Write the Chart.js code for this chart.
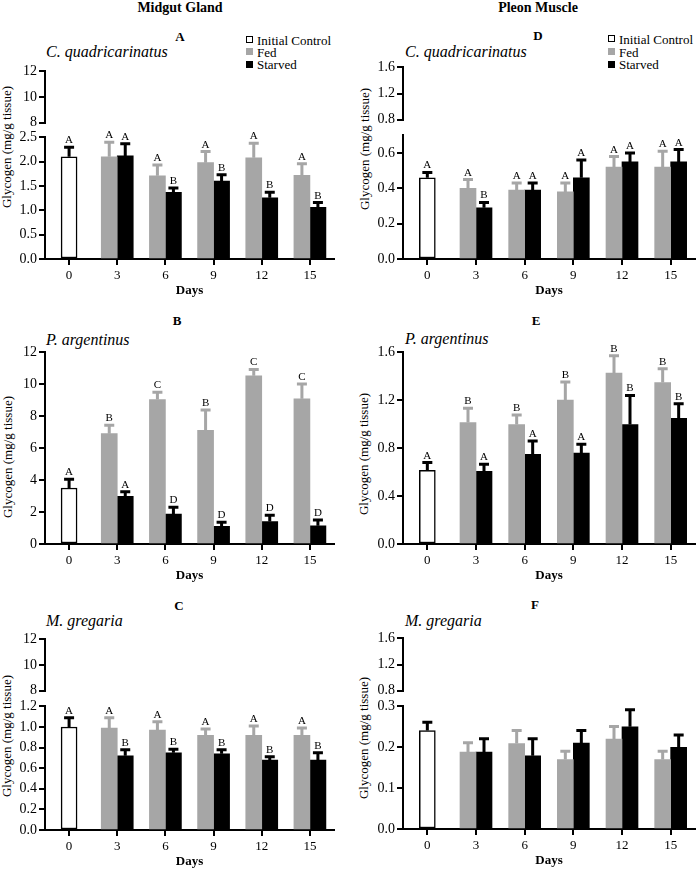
<!DOCTYPE html>
<html>
<head>
<meta charset="utf-8">
<script src="https://cdn.jsdelivr.net/npm/chart.js@4.4.1/dist/chart.umd.min.js"></script>
<style>
	body { margin: 0; background: #fff; }
	#fig { position: relative; width: 696px; height: 869px; overflow: hidden;
		font-family: 'Liberation Serif', serif; color: #000; }
	#fig canvas { position: absolute; }
	.txt { position: absolute; white-space: nowrap; line-height: 1; }
	.coltitle { font-weight: bold; font-size: 14px; transform: translate(-50%, -50%); }
	.letter { font-weight: bold; font-size: 13px; transform: translate(-50%, -50%); }
	.species { font-style: italic; font-size: 16px; transform: translateY(-50%); }
	.ytitle { font-size: 13px; transform: translate(-50%, -50%) rotate(-90deg); }
	.lgtext { font-size: 13px; transform: translateY(-50%); }
	.lgbox { position: absolute; width: 7px; height: 7px; box-sizing: border-box; }
</style>
</head>
<body>
<div id="fig"></div>
<script>
const days = ['0', '3', '6', '9', '12', '15'];

// A - midgut gland, C. quadricarinatus
const mgCqControl = [2.10];
const mgCqControlErr = [0.20];
const mgCqFed = [2.10, 1.71, 1.98, 2.08, 1.72];
const mgCqFedErr = [0.30, 0.22, 0.23, 0.30, 0.24];
const mgCqStarved = [2.12, 1.37, 1.60, 1.26, 1.06];
const mgCqStarvedErr = [0.25, 0.09, 0.13, 0.11, 0.10];
const mgCqControlLetters = ['A'];
const mgCqFedLetters = ['A', 'A', 'A', 'A', 'A'];
const mgCqStarvedLetters = ['A', 'B', 'B', 'B', 'B'];

// B - midgut gland, P. argentinus
const mgPaControl = [3.51];
const mgPaControlErr = [0.54];
const mgPaFed = [6.91, 9.05, 7.12, 10.54, 9.09];
const mgPaFedErr = [0.52, 0.45, 1.28, 0.39, 0.93];
const mgPaStarved = [2.99, 1.87, 1.10, 1.41, 1.14];
const mgPaStarvedErr = [0.29, 0.43, 0.27, 0.39, 0.37];
const mgPaControlLetters = ['A'];
const mgPaFedLetters = ['B', 'C', 'B', 'C', 'C'];
const mgPaStarvedLetters = ['A', 'D', 'D', 'D', 'D'];

// C - midgut gland, M. gregaria
const mgMgControl = [1.00];
const mgMgControlErr = [0.09];
const mgMgFed = [0.99, 0.97, 0.92, 0.92, 0.92];
const mgMgFedErr = [0.10, 0.08, 0.06, 0.09, 0.07];
const mgMgStarved = [0.72, 0.75, 0.74, 0.68, 0.68];
const mgMgStarvedErr = [0.06, 0.035, 0.04, 0.03, 0.07];
const mgMgControlLetters = ['A'];
const mgMgFedLetters = ['A', 'A', 'A', 'A', 'A'];
const mgMgStarvedLetters = ['B', 'B', 'B', 'B', 'B'];

// D - pleon muscle, C. quadricarinatus
const pmCqControl = [0.46];
const pmCqControlErr = [0.03];
const pmCqFed = [0.40, 0.39, 0.38, 0.52, 0.52];
const pmCqFedErr = [0.05, 0.04, 0.05, 0.06, 0.09];
const pmCqStarved = [0.29, 0.39, 0.46, 0.55, 0.55];
const pmCqStarvedErr = [0.03, 0.04, 0.10, 0.05, 0.07];
const pmCqControlLetters = ['A'];
const pmCqFedLetters = ['A', 'A', 'A', 'A', 'A'];
const pmCqStarvedLetters = ['B', 'A', 'A', 'A', 'A'];

// E - pleon muscle, P. argentinus
const pmPaControl = [0.615];
const pmPaControlErr = [0.065];
const pmPaFed = [1.014, 0.997, 1.202, 1.427, 1.349];
const pmPaFedErr = [0.12, 0.08, 0.15, 0.146, 0.114];
const pmPaStarved = [0.607, 0.748, 0.759, 0.997, 1.05];
const pmPaStarvedErr = [0.058, 0.113, 0.075, 0.244, 0.122];
const pmPaControlLetters = ['A'];
const pmPaFedLetters = ['B', 'B', 'B', 'B', 'B'];
const pmPaStarvedLetters = ['A', 'A', 'A', 'B', 'B'];

// F - pleon muscle, M. gregaria (no letters)
const pmMgControl = [0.241];
const pmMgControlErr = [0.02];
const pmMgFed = [0.188, 0.209, 0.17, 0.22, 0.17];
const pmMgFedErr = [0.023, 0.032, 0.02, 0.031, 0.02];
const pmMgStarved = [0.188, 0.179, 0.21, 0.25, 0.2];
const pmMgStarvedErr = [0.033, 0.042, 0.031, 0.042, 0.03];

const serif = "'Liberation Serif', serif";
const gray = '#a6a6a6';
const fig = document.getElementById('fig');

Chart.defaults.font.family = serif;
Chart.defaults.color = '#000';

const columns = [
	{ left: 0, yWidth: 45, padRight: 14 },
	{ left: 348, yWidth: 55, padRight: 1 },
];

function atControl(values) {
	return [values[0] ?? null, null, null, null, null, null];
}

function atTreatment(values) {
	return [null].concat(values);
}

// error bars (upward only) and significance letters
const errorBarsPlugin = {
	id: 'errorBars',
	afterDatasetsDraw(chart) {
		const ctx = chart.ctx;
		const yScale = chart.scales.y;
		chart.data.datasets.forEach((ds, di) => {
			const meta = chart.getDatasetMeta(di);
			meta.data.forEach((bar, i) => {
				const v = ds.data[i];
				if (v === null || v === undefined) return;
				const yTop = yScale.getPixelForValue(v + ds.errors[i]);
				ctx.save();
				ctx.strokeStyle = ds.errorColor;
				ctx.lineWidth = 3;
				ctx.beginPath();
				ctx.moveTo(bar.x, bar.y);
				ctx.lineTo(bar.x, yTop);
				ctx.moveTo(bar.x - 5, yTop);
				ctx.lineTo(bar.x + 5, yTop);
				ctx.stroke();
				const letter = ds.letters[i];
				if (letter) {
					ctx.fillStyle = '#000';
					ctx.font = '11px ' + serif;
					ctx.textAlign = 'center';
					ctx.textBaseline = 'alphabetic';
					ctx.fillText(letter, bar.x, yTop - 4);
				}
				ctx.restore();
			});
		});
	},
};

function makeDatasets(p) {
	const common = { barThickness: 16, skipNull: true };
	return [
		Object.assign({
			label: 'Initial Control',
			data: atControl(p.control),
			errors: atControl(p.controlErr),
			letters: atControl(p.controlLetters),
			backgroundColor: '#fff',
			borderColor: '#000',
			borderWidth: 1.5,
			borderSkipped: false,
			errorColor: '#000',
		}, common),
		Object.assign({
			label: 'Fed',
			data: atTreatment(p.fed),
			errors: atTreatment(p.fedErr),
			letters: atTreatment(p.fedLetters),
			backgroundColor: gray,
			borderWidth: 0,
			errorColor: gray,
		}, common),
		Object.assign({
			label: 'Starved',
			data: atTreatment(p.starved),
			errors: atTreatment(p.starvedErr),
			letters: atTreatment(p.starvedLetters),
			backgroundColor: '#000',
			borderWidth: 0,
			errorColor: '#000',
		}, common),
	];
}

function yAxis(min, max, step, dec, width) {
	return {
		min: min,
		max: max,
		afterFit: (scale) => { scale.width = width; },
		border: { display: true, color: '#000', width: 2 },
		grid: { drawOnChartArea: false, tickLength: 6, lineWidth: 2, color: '#000' },
		ticks: {
			stepSize: step,
			padding: 2,
			color: '#000',
			font: { family: serif, size: 14 },
			callback: (v) => Number(v).toFixed(dec),
		},
	};
}

const xAxisShown = {
	afterFit: (scale) => { scale.height = 39; },
	border: { display: true, color: '#000', width: 2 },
	grid: { drawOnChartArea: false, offset: false, tickLength: 6, lineWidth: 2, color: '#000' },
	ticks: { padding: 3, color: '#000', font: { family: serif, size: 13 } },
	title: {
		display: true,
		text: 'Days',
		color: '#000',
		padding: 0,
		font: { family: serif, size: 13, weight: 'bold' },
	},
};

function addCanvas(left, top, width, height) {
	const c = document.createElement('canvas');
	c.width = width;
	c.height = height;
	c.style.left = left + 'px';
	c.style.top = top + 'px';
	c.style.width = width + 'px';
	c.style.height = height + 'px';
	fig.appendChild(c);
	return c.getContext('2d');
}

function baseOptions(col, padTop, padBottom) {
	return {
		responsive: false,
		animation: false,
		devicePixelRatio: 1,
		layout: { padding: { left: 0, right: col.padRight, top: padTop, bottom: padBottom } },
		plugins: { legend: { display: false }, tooltip: { enabled: false } },
	};
}

function drawPanel(p) {
	const col = columns[p.col];
	const lo = p.lower;
	const loTop = Math.round(lo.top) - 10;
	const loHeight = Math.round(lo.bottom) - Math.round(lo.top) + 10 + 39 + 2;
	const lowerOptions = baseOptions(col, 10, 2);
	lowerOptions.scales = {
		x: xAxisShown,
		y: yAxis(0, lo.max, lo.step, lo.dec, col.yWidth),
	};
	new Chart(addCanvas(col.left, loTop, 348, loHeight), {
		type: 'bar',
		data: { labels: days, datasets: makeDatasets(p) },
		options: lowerOptions,
		plugins: [errorBarsPlugin],
	});

	if (p.upper) {
		const up = p.upper;
		const upTop = Math.round(up.top) - 10;
		const upHeight = Math.round(up.bottom) - Math.round(up.top) + 20;
		const upperOptions = baseOptions(col, 10, 10);
		upperOptions.scales = {
			x: { display: false },
			y: yAxis(up.min, up.max, up.step, up.dec, col.yWidth),
		};
		new Chart(addCanvas(col.left, upTop, 348, upHeight), {
			type: 'bar',
			data: { labels: days, datasets: [] },
			options: upperOptions,
		});
	}
}

function drawCharts() {
	drawPanel({
		col: 0,
		upper: { top: 71, bottom: 123, min: 8, max: 12, step: 2, dec: 0 },
		lower: { top: 137, bottom: 259, max: 2.5, step: 0.5, dec: 1 },
		control: mgCqControl, controlErr: mgCqControlErr, controlLetters: mgCqControlLetters,
		fed: mgCqFed, fedErr: mgCqFedErr, fedLetters: mgCqFedLetters,
		starved: mgCqStarved, starvedErr: mgCqStarvedErr, starvedLetters: mgCqStarvedLetters,
	});

	drawPanel({
		col: 0,
		lower: { top: 352, bottom: 544, max: 12, step: 2, dec: 0 },
		control: mgPaControl, controlErr: mgPaControlErr, controlLetters: mgPaControlLetters,
		fed: mgPaFed, fedErr: mgPaFedErr, fedLetters: mgPaFedLetters,
		starved: mgPaStarved, starvedErr: mgPaStarvedErr, starvedLetters: mgPaStarvedLetters,
	});

	drawPanel({
		col: 0,
		upper: { top: 639, bottom: 691, min: 8, max: 12, step: 2, dec: 0 },
		lower: { top: 706, bottom: 830, max: 1.2, step: 0.2, dec: 1 },
		control: mgMgControl, controlErr: mgMgControlErr, controlLetters: mgMgControlLetters,
		fed: mgMgFed, fedErr: mgMgFedErr, fedLetters: mgMgFedLetters,
		starved: mgMgStarved, starvedErr: mgMgStarvedErr, starvedLetters: mgMgStarvedLetters,
	});

	drawPanel({
		col: 1,
		upper: { top: 67, bottom: 120, min: 0.8, max: 1.6, step: 0.4, dec: 1 },
		lower: { top: 135, bottom: 259, max: 0.7, step: 0.1, dec: 1 },
		control: pmCqControl, controlErr: pmCqControlErr, controlLetters: pmCqControlLetters,
		fed: pmCqFed, fedErr: pmCqFedErr, fedLetters: pmCqFedLetters,
		starved: pmCqStarved, starvedErr: pmCqStarvedErr, starvedLetters: pmCqStarvedLetters,
	});

	drawPanel({
		col: 1,
		lower: { top: 352, bottom: 544, max: 1.6, step: 0.4, dec: 1 },
		control: pmPaControl, controlErr: pmPaControlErr, controlLetters: pmPaControlLetters,
		fed: pmPaFed, fedErr: pmPaFedErr, fedLetters: pmPaFedLetters,
		starved: pmPaStarved, starvedErr: pmPaStarvedErr, starvedLetters: pmPaStarvedLetters,
	});

	drawPanel({
		col: 1,
		upper: { top: 638, bottom: 691, min: 0.8, max: 1.6, step: 0.4, dec: 1 },
		lower: { top: 706, bottom: 829, max: 0.3, step: 0.1, dec: 1 },
		control: pmMgControl, controlErr: pmMgControlErr, controlLetters: [],
		fed: pmMgFed, fedErr: pmMgFedErr, fedLetters: [],
		starved: pmMgStarved, starvedErr: pmMgStarvedErr, starvedLetters: [],
	});
}

// text around the charts
function addText(cls, text, x, y) {
	const d = document.createElement('div');
	d.className = 'txt ' + cls;
	d.textContent = text;
	d.style.left = x + 'px';
	d.style.top = y + 'px';
	fig.appendChild(d);
}

addText('coltitle', 'Midgut Gland', 180, 8);
addText('coltitle', 'Pleon Muscle', 538, 8);

addText('letter', 'A', 180, 36);
addText('letter', 'B', 177, 320);
addText('letter', 'C', 179, 605);
addText('letter', 'D', 538, 35);
addText('letter', 'E', 536, 320);
addText('letter', 'F', 535, 604);

addText('species', 'C. quadricarinatus', 46, 52);
addText('species', 'P. argentinus', 46, 340);
addText('species', 'M. gregaria', 46, 621);
addText('species', 'C. quadricarinatus', 405, 52);
addText('species', 'P. argentinus', 405, 339);
addText('species', 'M. gregaria', 405, 621);

const yTitle = 'Glycogen (mg/g tissue)';
addText('ytitle', yTitle, 6, 147);
addText('ytitle', yTitle, 7, 457);
addText('ytitle', yTitle, 6, 736);
addText('ytitle', yTitle, 364, 149);
addText('ytitle', yTitle, 363, 454);
addText('ytitle', yTitle, 363, 738);

const legendLabels = ['Initial Control', 'Fed', 'Starved'];
const legendFills = ['#fff', gray, '#000'];

function addLegend(boxX, textX, rows) {
	rows.forEach((y, i) => {
		const b = document.createElement('div');
		b.className = 'lgbox';
		b.style.left = boxX + 'px';
		b.style.top = (y - 3.5) + 'px';
		b.style.background = legendFills[i];
		if (i === 0) b.style.border = '1px solid #000';
		fig.appendChild(b);
		addText('lgtext', legendLabels[i], textX, y);
	});
}

addLegend(246, 257, [39.5, 51.5, 64]);
addLegend(608, 619, [38.5, 51.5, 64]);

// make sure the serif face is resolved before the canvases draw text
Promise.all([
	document.fonts.load("14px 'Liberation Serif'"),
	document.fonts.load("bold 13px 'Liberation Serif'"),
]).then(drawCharts, drawCharts);
</script>
</body>
</html>
